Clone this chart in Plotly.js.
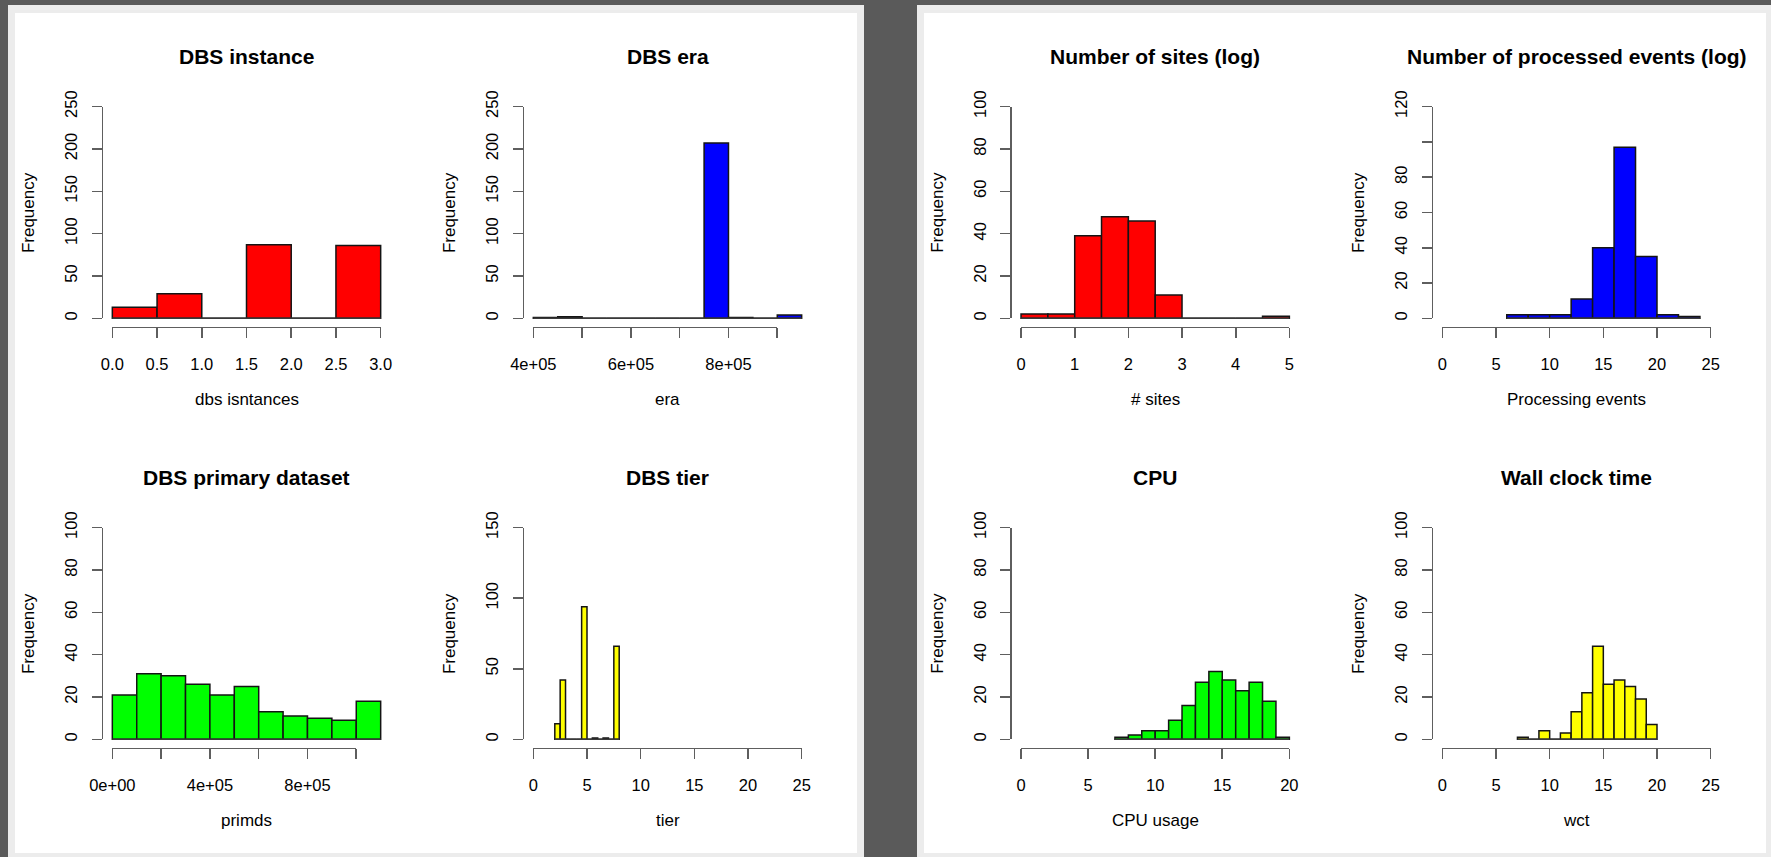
<!DOCTYPE html>
<html><head><meta charset="utf-8">
<script src="https://cdn.plot.ly/plotly-3.0.1.min.js"></script>
<style>
html,body{margin:0;padding:0;background:#5a5a5a;width:1771px;height:857px;overflow:hidden;}
.frame{position:absolute;background:#ececec;}
.win{position:absolute;background:#ffffff;}
#chart{position:absolute;left:0;top:0;width:1771px;height:857px;}
</style></head><body>
<div class="frame" style="left:8px;top:5px;width:856px;height:852px"></div>
<div class="win" style="left:15px;top:13px;width:842px;height:840px"></div>
<div class="frame" style="left:917px;top:5px;width:854px;height:852px"></div>
<div class="win" style="left:924px;top:13px;width:842px;height:840px"></div>
<div id="chart"></div>
<script>
// ---------------- data ----------------
const instanceBreaks = [0, 0.5, 1, 1.5, 2, 2.5, 3];
const instanceCounts = [13, 29, 0, 87, 0, 86];
const eraBreaks = [400000, 450000, 500000, 550000, 600000, 650000, 700000, 750000, 800000, 850000, 900000, 950000];
const eraCounts = [1, 2, 0, 0, 0, 0, 0, 207, 1, 0, 4];
const primdsBreaks = [0, 100000, 200000, 300000, 400000, 500000, 600000, 700000, 800000, 900000, 1000000, 1100000];
const primdsCounts = [21, 31, 30, 26, 21, 25, 13, 11, 10, 9, 18];
const tierBreaks = [2, 2.5, 3, 3.5, 4, 4.5, 5, 5.5, 6, 6.5, 7, 7.5, 8];
const tierCounts = [11, 42, 0, 0, 0, 94, 0, 1, 0, 1, 0, 66];
const sitesBreaks = [0, 0.5, 1, 1.5, 2, 2.5, 3, 3.5, 4, 4.5, 5];
const sitesCounts = [2, 2, 39, 48, 46, 11, 0, 0, 0, 1];
const eventsBreaks = [6, 8, 10, 12, 14, 16, 18, 20, 22, 24];
const eventsCounts = [2, 2, 2, 11, 40, 97, 35, 2, 1];
const cpuBreaks = [7, 8, 9, 10, 11, 12, 13, 14, 15, 16, 17, 18, 19, 20];
const cpuCounts = [1, 2, 4, 4, 9, 16, 27, 32, 28, 23, 27, 18, 1];
const wctBreaks = [7, 8, 9, 10, 11, 12, 13, 14, 15, 16, 17, 18, 19, 20];
const wctCounts = [1, 0, 4, 0, 3, 13, 22, 44, 26, 28, 25, 19, 7];

// x limits of each histogram
const instanceXlim = [0, 3];
const eraXlim = [400000, 950000];
const primdsXlim = [0, 1100000];
const tierXlim = [0, 25];
const sitesXlim = [0, 5];
const eventsXlim = [0, 25];
const cpuXlim = [0, 20];
const wctXlim = [0, 25];

// tick values and labels
const instanceTicks = [0, 0.5, 1, 1.5, 2, 2.5, 3];
const instanceTickText = ['0.0', '0.5', '1.0', '1.5', '2.0', '2.5', '3.0'];
const eraTicks = [400000, 500000, 600000, 700000, 800000, 900000];
const eraTickText = ['4e+05', '', '6e+05', '', '8e+05', ''];
const primdsTicks = [0, 200000, 400000, 600000, 800000, 1000000];
const primdsTickText = ['0e+00', '', '4e+05', '', '8e+05', ''];
const ticks0to25 = [0, 5, 10, 15, 20, 25];
const ticks0to25Text = ['0', '5', '10', '15', '20', '25'];
const ticks0to20 = [0, 5, 10, 15, 20];
const ticks0to20Text = ['0', '5', '10', '15', '20'];
const sitesTicks = [0, 1, 2, 3, 4, 5];
const sitesTickText = ['0', '1', '2', '3', '4', '5'];
const freq250Ticks = [0, 50, 100, 150, 200, 250];
const freq250Text = ['0', '50', '100', '150', '200', '250'];
const freq150Ticks = [0, 50, 100, 150];
const freq150Text = ['0', '50', '100', '150'];
const freq100Ticks = [0, 20, 40, 60, 80, 100];
const freq100Text = ['0', '20', '40', '60', '80', '100'];
const freq120Ticks = [0, 20, 40, 60, 80, 100, 120];
const freq120Text = ['0', '20', '40', '60', '80', '', '120'];

const titles = ['DBS instance', 'DBS era', 'DBS primary dataset', 'DBS tier',
  'Number of sites (log)', 'Number of processed events (log)', 'CPU', 'Wall clock time'];
const xLabels = ['dbs isntances', 'era', 'primds', 'tier', '# sites', 'Processing events', 'CPU usage', 'wct'];
const yLabel = 'Frequency';

// ---------------- layout / style ----------------
const W = 1771, H = 857;
const FONT = '"Liberation Sans", Arial, Helvetica, sans-serif';
const colLeft = [101.6, 522.6, 1010.3, 1431.6];
const rowTop = [98.2, 519.2];
const plotW = 289.8, plotH = 228.6;
const AXIS_COLOR = '#5e5e5e';

const panels = [
  {title: titles[0], xl: xLabels[0], b: instanceBreaks, c: instanceCounts, lim: instanceXlim, xt: instanceTicks, xtt: instanceTickText, yt: freq250Ticks, ytt: freq250Text, color: '#ff0000', col: 0, row: 0},
  {title: titles[1], xl: xLabels[1], b: eraBreaks, c: eraCounts, lim: eraXlim, xt: eraTicks, xtt: eraTickText, yt: freq250Ticks, ytt: freq250Text, color: '#0000ff', col: 1, row: 0},
  {title: titles[2], xl: xLabels[2], b: primdsBreaks, c: primdsCounts, lim: primdsXlim, xt: primdsTicks, xtt: primdsTickText, yt: freq100Ticks, ytt: freq100Text, color: '#00ff00', col: 0, row: 1},
  {title: titles[3], xl: xLabels[3], b: tierBreaks, c: tierCounts, lim: tierXlim, xt: ticks0to25, xtt: ticks0to25Text, yt: freq150Ticks, ytt: freq150Text, color: '#ffff00', col: 1, row: 1},
  {title: titles[4], xl: xLabels[4], b: sitesBreaks, c: sitesCounts, lim: sitesXlim, xt: sitesTicks, xtt: sitesTickText, yt: freq100Ticks, ytt: freq100Text, color: '#ff0000', col: 2, row: 0},
  {title: titles[5], xl: xLabels[5], b: eventsBreaks, c: eventsCounts, lim: eventsXlim, xt: ticks0to25, xtt: ticks0to25Text, yt: freq120Ticks, ytt: freq120Text, color: '#0000ff', col: 3, row: 0},
  {title: titles[6], xl: xLabels[6], b: cpuBreaks, c: cpuCounts, lim: cpuXlim, xt: ticks0to20, xtt: ticks0to20Text, yt: freq100Ticks, ytt: freq100Text, color: '#00ff00', col: 2, row: 1},
  {title: titles[7], xl: xLabels[7], b: wctBreaks, c: wctCounts, lim: wctXlim, xt: ticks0to25, xtt: ticks0to25Text, yt: freq100Ticks, ytt: freq100Text, color: '#ffff00', col: 3, row: 1}
];

function key(letter, n) { return letter + 'axis' + (n === 1 ? '' : n); }
function ref(letter, n) { return letter + (n === 1 ? '' : n); }

const layout = {
  width: W, height: H, autosize: false,
  margin: {l: 0, r: 0, t: 0, b: 0, pad: 0},
  paper_bgcolor: 'rgba(0,0,0,0)', plot_bgcolor: 'rgba(0,0,0,0)',
  showlegend: false, hovermode: false,
  font: {family: FONT, color: '#000000'},
  annotations: []
};
const data = [];

panels.forEach((p, i) => {
  const n = i + 1, v = i + 9;
  const xs = p.lim[1] - p.lim[0];
  const usrX = [p.lim[0] - 0.04 * xs, p.lim[1] + 0.04 * xs];
  const ymax = p.yt[p.yt.length - 1];
  const usrY = [-0.04 * ymax, 1.04 * ymax];
  const pxL = colLeft[p.col], pxR = pxL + plotW;
  const pyT = rowTop[p.row], pyB = pyT + plotH;
  const toPX = val => pxL + (val - usrX[0]) / (usrX[1] - usrX[0]) * plotW;
  const toPY = val => pyB - (val - usrY[0]) / (usrY[1] - usrY[0]) * plotH;

  // data axes (invisible, R "usr" region)
  layout[key('x', n)] = {domain: [pxL / W, pxR / W], range: usrX, visible: false, fixedrange: true, anchor: ref('y', n)};
  layout[key('y', n)] = {domain: [1 - pyB / H, 1 - pyT / H], range: usrY, visible: false, fixedrange: true, anchor: ref('x', n)};

  // visible R-style axes spanning the tick range only
  const x0 = p.xt[0], x1 = p.xt[p.xt.length - 1];
  layout[key('x', v)] = {
    domain: [toPX(x0) / W, toPX(x1) / W], range: [x0, x1],
    anchor: 'free', position: 1 - pyB / H,
    showline: true, linecolor: AXIS_COLOR, linewidth: 1.6,
    ticks: 'outside', ticklen: 10, tickwidth: 1.6, tickcolor: AXIS_COLOR,
    tickmode: 'array', tickvals: p.xt, ticktext: p.xtt,
    tickfont: {family: FONT, size: 16.5, color: '#000'}, ticklabelstandoff: 12,
    showgrid: false, zeroline: false, fixedrange: true
  };
  layout[key('y', v)] = {
    domain: [1 - toPY(0) / H, 1 - toPY(ymax) / H], range: [0, ymax],
    anchor: 'free', position: pxL / W,
    showline: true, linecolor: AXIS_COLOR, linewidth: 1.6,
    ticks: 'outside', ticklen: 10, tickwidth: 1.6, tickcolor: AXIS_COLOR,
    tickmode: 'array', tickvals: p.yt, ticktext: p.ytt, tickangle: -90,
    tickfont: {family: FONT, size: 16.5, color: '#000'}, ticklabelstandoff: 8,
    showgrid: false, zeroline: false, fixedrange: true
  };

  const mids = p.c.map((cnt, k) => (p.b[k] + p.b[k + 1]) / 2);
  const widths = p.c.map((cnt, k) => p.b[k + 1] - p.b[k]);

  // baseline of the histogram (outline of empty bins)
  data.push({type: 'scatter', mode: 'lines', x: [p.b[0], p.b[p.b.length - 1]], y: [0, 0],
    line: {color: '#3a3a3a', width: 1.5}, xaxis: ref('x', n), yaxis: ref('y', n), hoverinfo: 'skip'});
  // bars
  data.push({type: 'bar', x: mids, y: p.c, width: widths,
    marker: {color: p.color, line: {color: '#141414', width: 1.5}},
    xaxis: ref('x', n), yaxis: ref('y', n), hoverinfo: 'skip'});
  // carrier for the visible axes
  data.push({type: 'scatter', mode: 'markers', x: [x0], y: [0], marker: {size: 1, opacity: 0},
    xaxis: ref('x', v), yaxis: ref('y', v), hoverinfo: 'skip'});

  const cx = (pxL + pxR) / 2, cy = (pyT + pyB) / 2;
  layout.annotations.push({text: p.title, xref: 'paper', yref: 'paper', x: cx / W, y: 1 - (pyT - 41.4) / H,
    xanchor: 'center', yanchor: 'middle', showarrow: false,
    font: {family: FONT, size: 21, weight: 700, color: '#000'}});
  layout.annotations.push({text: p.xl, xref: 'paper', yref: 'paper', x: cx / W, y: 1 - (pyB + 73) / H,
    xanchor: 'center', yanchor: 'middle', showarrow: false,
    font: {family: FONT, size: 17, color: '#000'}});
  layout.annotations.push({text: yLabel, xref: 'paper', yref: 'paper', x: (pxL - 73) / W, y: 1 - cy / H,
    xanchor: 'center', yanchor: 'middle', textangle: -90, showarrow: false,
    font: {family: FONT, size: 17, color: '#000'}});
});

Plotly.newPlot('chart', data, layout, {displayModeBar: false, staticPlot: true});
</script>
</body></html>
